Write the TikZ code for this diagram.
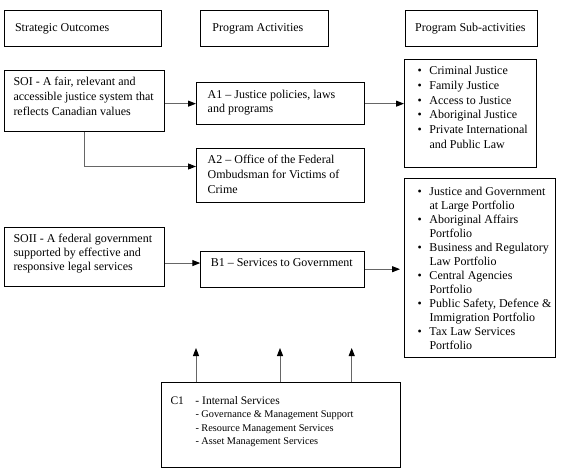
\documentclass[tikz,border=0pt]{standalone}
\usepackage{fontspec}
\setmainfont{Liberation Serif}
\usetikzlibrary{arrows.meta}
\newcommand{\bitem}[1]{\mbox{\makebox[12pt][l]{\textbullet}#1}}
\newcommand{\bcont}[1]{\mbox{\hspace{12pt}#1}}
\begin{document}
\begin{tikzpicture}[
  x=1pt, y=-1pt,
  box/.style={draw, line width=1pt, anchor=north west, align=flush left, inner ysep=4pt,
    text height=11.5pt, font=\fontsize{12}{14.7}\selectfont},
  head/.style={box, minimum height=35.7pt, text height=8pt, text depth=3pt},
  conn/.style={draw=black!60, line width=1pt, -{Triangle[length=8pt,width=6pt,color=black]}}
]
  \useasboundingbox (0,0) rectangle (564,470);

  \node[head, inner xsep=10.5pt, text width=135.7pt] (so)  at (4,10.3)     {Strategic Outcomes};
  \node[head, inner xsep=11.6pt, text width=104.5pt] (pa)  at (200.3,10.3) {Program Activities};
  \node[head, inner xsep=10pt,   text width=112.3pt] (psa) at (404.7,10.3) {Program Sub-activities};

  \node[box, inner xsep=9pt, text width=142.3pt, text depth=41.3pt] (soi) at (4,70)
    {SOI - A fair, relevant and\\accessible justice system that\\reflects Canadian values};
  \node[box, inner xsep=11.2pt, text width=145.9pt, text depth=22.2pt] (a1) at (196,82.3)
    {A1 – Justice policies, laws\\and programs};
  \node[box, inner xsep=11.2pt, text width=145.9pt, text depth=34.5pt] (a2) at (196,148)
    {A2 – Office of the Federal\\Ombudsman for Victims of\\Crime};
  \node[box, inner xsep=13pt, text width=106pt, text depth=88.5pt] (sub1) at (404,58.7)
    {\bitem{Criminal Justice}\\ \bitem{Family Justice}\\ \bitem{Access to Justice}\\
     \bitem{Aboriginal Justice}\\ \bitem{Private International}\\ \bcont{and Public Law}};
  \node[box, inner xsep=13pt, text width=125pt, text height=13.2pt, text depth=157.8pt,
    font=\fontsize{12}{14}\selectfont] (sub2) at (404,178)
    {\bitem{Justice and Government}\\ \bcont{at Large Portfolio}\\
     \bitem{Aboriginal Affairs}\\ \bcont{Portfolio}\\
     \bitem{Business and Regulatory}\\ \bcont{Law Portfolio}\\
     \bitem{Central Agencies}\\ \bcont{Portfolio}\\
     \bitem{Public Safety, Defence \&}\\ \bcont{Immigration Portfolio}\\
     \bitem{Tax Law Services}\\ \bcont{Portfolio}};
  \node[box, inner xsep=9pt, text width=142.3pt, text depth=40.2pt,
    font=\fontsize{12}{13.8}\selectfont] (soii) at (4,226.7)
    {\mbox{SOII - A federal government}\\supported by effective and\\responsive legal services};
  \node[box, inner xsep=10pt, text width=144pt, text depth=16.5pt] (b1) at (200.3,250.7)
    {\mbox{B1 – Services to Government}};
  \node[box, inner xsep=9.3pt, text width=220.7pt, text height=17.7pt, text depth=58.7pt,
    font=\fontsize{11.5}{13.3}\selectfont] (c1) at (160.7,382.3)
    {\makebox[25pt][l]{C1}- Internal Services\\ \fontsize{10.3}{13.3}\selectfont
     \hspace*{25pt}- Governance \& Management Support\\
     \hspace*{25pt}- Resource Management Services\\
     \hspace*{25pt}- Asset Management Services};

  \draw[conn] (soi.east |- a1.west) -- (a1.west);
  \draw[conn] (a1.east) -- (a1.east -| sub1.west);
  \draw[conn] (soi.south) |- ([yshift=9pt]a2.west);
  \draw[conn] ([yshift=-6pt]soii.east) -- ([yshift=-6pt]soii.east -| b1.west);
  \draw[conn, shorten >=4pt] (b1.east) -- (b1.east -| sub2.west);
  \foreach \x [count=\i] in {196,280,351.7} {
    \coordinate (up\i) at (\x,348);
    \draw[conn] (up\i |- c1.north) -- (up\i);
  }
\end{tikzpicture}
\end{document}
